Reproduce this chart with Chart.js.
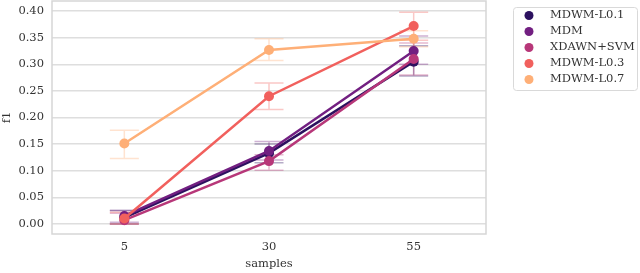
<!DOCTYPE html>
<html>
<head>
<meta charset="utf-8">
<script src="https://cdn.jsdelivr.net/npm/chart.js@4"></script>
<style>
  html, body { margin: 0; padding: 0; background: #fff; }
  #wrap { width: 640px; height: 273px; }
</style>
</head>
<body>
<div id="wrap"><canvas id="f1Chart"></canvas></div>
<script>
const samples = ["5", "30", "55"];
const seriesNames = ["MDWM-L0.1", "MDM", "XDAWN+SVM", "MDWM-L0.3", "MDWM-L0.7"];
const seriesColors = ["#2c115f", "#721f81", "#b73779", "#f1605d", "#feaf77"];

// mean f1 per sample size
const mdwmL01 = [0.012, 0.133, 0.305];
const mdm = [0.015, 0.137, 0.325];
const xdawnSvm = [0.007, 0.118, 0.31];
const mdwmL03 = [0.010, 0.240, 0.372];
const mdwmL07 = [0.151, 0.327, 0.348];

// error bar low / high
const mdwmL01Lo = [0.0, 0.115, 0.278];
const mdwmL01Hi = [0.025, 0.150, 0.335];
const mdmLo = [0.003, 0.120, 0.300];
const mdmHi = [0.025, 0.155, 0.353];
const xdawnSvmLo = [0.0, 0.101, 0.280];
const xdawnSvmHi = [0.020, 0.130, 0.340];
const mdwmL03Lo = [0.0, 0.215, 0.345];
const mdwmL03Hi = [0.022, 0.265, 0.398];
const mdwmL07Lo = [0.123, 0.307, 0.333];
const mdwmL07Hi = [0.176, 0.348, 0.363];

const yTicks = [0, 0.05, 0.1, 0.15, 0.2, 0.25, 0.3, 0.35, 0.4];

const means = [mdwmL01, mdm, xdawnSvm, mdwmL03, mdwmL07];
const lows = [mdwmL01Lo, mdmLo, xdawnSvmLo, mdwmL03Lo, mdwmL07Lo];
const highs = [mdwmL01Hi, mdmHi, xdawnSvmHi, mdwmL03Hi, mdwmL07Hi];

const serif = "'DejaVu Serif', serif";

function withAlpha(hex, a) {
    const n = parseInt(hex.slice(1), 16);
    return `rgba(${(n >> 16) & 255}, ${(n >> 8) & 255}, ${n & 255}, ${a})`;
}

// error bars drawn under the lines, through the chart scales
const errorBars = {
    id: "errorBars",
    beforeDatasetsDraw(chart) {
        const { ctx, scales: { x, y } } = chart;
        ctx.save();
        ctx.lineWidth = 1.5;
        seriesNames.forEach((name, i) => {
            ctx.strokeStyle = withAlpha(seriesColors[i], 0.35);
            samples.forEach((s, j) => {
                const px = x.getPixelForValue(j);
                const top = y.getPixelForValue(highs[i][j]);
                const bot = y.getPixelForValue(lows[i][j]);
                ctx.beginPath();
                ctx.moveTo(px, top); ctx.lineTo(px, bot);
                ctx.moveTo(px - 14.5, top); ctx.lineTo(px + 14.5, top);
                ctx.moveTo(px - 14.5, bot); ctx.lineTo(px + 14.5, bot);
                ctx.stroke();
            });
        });
        ctx.restore();
    }
};

// plot frame and boxed legend
const frameAndLegend = {
    id: "frameAndLegend",
    afterDraw(chart) {
        const { ctx, chartArea: a } = chart;
        ctx.save();
        ctx.strokeStyle = "#d6d6d6";
        ctx.lineWidth = 1.5;
        ctx.strokeRect(a.left, a.top, a.right - a.left, a.bottom - a.top);

        const lx = 513.5, ly = 7.5, lw = 124, lh = 83;
        ctx.strokeStyle = "#d9d9d9";
        ctx.lineWidth = 1;
        ctx.beginPath();
        ctx.roundRect(lx, ly, lw, lh, 3);
        ctx.fillStyle = "#fff";
        ctx.fill();
        ctx.stroke();

        ctx.font = "11.5px " + serif;
        ctx.textBaseline = "middle";
        ctx.textAlign = "left";
        seriesNames.forEach((name, i) => {
            const cy = 15.5 + i * 16;
            ctx.fillStyle = seriesColors[i];
            ctx.beginPath();
            ctx.arc(529, cy, 4.5, 0, Math.PI * 2);
            ctx.fill();
            ctx.fillStyle = "#333";
            ctx.fillText(name, 550, cy);
        });
        ctx.restore();
    }
};

document.addEventListener("DOMContentLoaded", () => {
    const ctx = document.getElementById("f1Chart").getContext("2d");
    new Chart(ctx, {
        type: "line",
        data: {
            labels: samples,
            datasets: seriesNames.map((name, i) => ({
                label: name,
                data: means[i],
                borderColor: seriesColors[i],
                backgroundColor: seriesColors[i],
                borderWidth: 2.5,
                pointRadius: 5,
                pointBorderWidth: 0,
                tension: 0,
                order: 5 - i,
            })),
        },
        options: {
            responsive: true,
            maintainAspectRatio: false,
            animation: false,
            layout: { autoPadding: false, padding: { top: 1, right: 154, left: 0, bottom: 0 } },
            plugins: { legend: { display: false }, tooltip: { enabled: false } },
            scales: {
                x: {
                    offset: true,
                    grid: { display: false, drawTicks: false },
                    border: { display: false },
                    ticks: { color: "#333", font: { family: serif, size: 11.5 }, padding: 6 },
                    title: { display: true, text: "samples", color: "#333", font: { family: serif, size: 11.5 }, padding: { top: 0, bottom: 2 } },
                    afterFit(scale) {
                        scale.height = 39;
                        scale.paddingLeft = 0;
                        scale.paddingRight = 0;
                    },
                },
                y: {
                    min: -0.019,
                    max: 0.419,
                    afterBuildTicks(scale) { scale.ticks = yTicks.map(v => ({ value: v })); },
                    grid: { color: "#dedede", lineWidth: 1.5, drawTicks: false },
                    border: { display: false },
                    ticks: {
                        color: "#333",
                        font: { family: serif, size: 11.5 },
                        padding: 8,
                        callback: v => v.toFixed(2),
                    },
                    title: { display: true, text: "f1", color: "#333", font: { family: serif, size: 11.5 }, padding: { top: 0, bottom: 2 } },
                    afterFit(scale) {
                        scale.width = 52;
                        scale.paddingTop = 0;
                        scale.paddingBottom = 0;
                    },
                },
            },
        },
        plugins: [errorBars, frameAndLegend],
    });
});
</script>
</body>
</html>
